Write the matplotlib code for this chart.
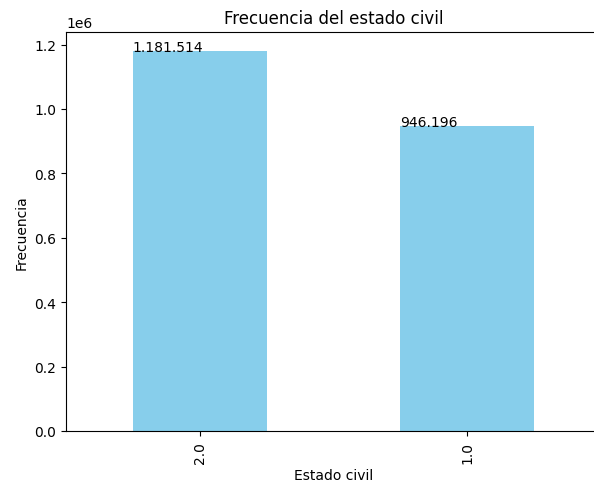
import matplotlib
matplotlib.use("Agg")
import matplotlib.pyplot as plt

# data
categorias = ["2.0", "1.0"]
frecuencias = [1181514, 946196]

fig = plt.figure(figsize=(5.94, 4.89), dpi=100)
# the reference is cropped on the right, so the axes run past the figure edge
ax = fig.add_axes([66 / 594, 57 / 489, 535 / 594, 399.5 / 489])

pos = range(len(categorias))
bars = ax.bar(pos, frecuencias, width=0.5, color="skyblue")
ax.set_xlim(-0.5, len(categorias) - 0.5)
ax.set_ylim(0, max(frecuencias) * 1.05)
ax.set_xticks(list(pos))
ax.set_xticklabels(categorias, rotation=90)

# value label at the top-left corner of each bar
for b, v in zip(bars, frecuencias):
    ax.text(b.get_x(), b.get_height(), f"{v:,}".replace(",", "."), fontsize=10)

ax.set_title("Frecuencia del estado civil")
ax.set_xlabel("Estado civil")
ax.set_ylabel("Frecuencia")

fig.savefig("out.png", dpi=100)
